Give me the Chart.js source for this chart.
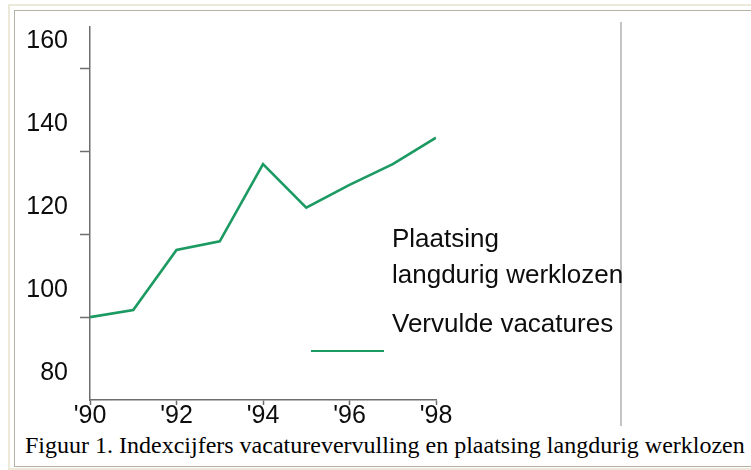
<!DOCTYPE html>
<html>
<head>
<meta charset="utf-8">
<script src="https://cdn.jsdelivr.net/npm/chart.js@4"></script>
<style>
  html, body { margin: 0; padding: 0; background: #fff; }
  body { width: 751px; height: 470px; position: relative; overflow: hidden; }
  .frame-outer { position: absolute; left: 8px; top: 4px; width: 800px; height: 462px; border: 2px solid #ece9d8; border-right: none; }
  .frame-inner { position: absolute; left: 14px; top: 10px; width: 800px; height: 455px; border: 1px solid #b5b2a4; border-right: none; }
  #chart { position: absolute; left: 0; top: 0; }
  .rightline { position: absolute; left: 620px; top: 22px; width: 1.5px; height: 404px; background: #c4c4c4; }
  .legend { position: absolute; left: 392px; font: 26px "Liberation Sans", Arial, sans-serif; line-height: 26px; color: #0d0d0d; white-space: nowrap; }
  .legend-line { position: absolute; left: 311px; top: 350px; width: 73px; height: 2px; background: #1b9a62; }
  .caption { position: absolute; left: 25px; top: 433px; font: 24px "Liberation Serif", "Times New Roman", serif; line-height: 24px; color: #000; white-space: nowrap; }
</style>
</head>
<body>
<div class="frame-outer"></div>
<div class="frame-inner"></div>
<canvas id="chart" width="751" height="430"></canvas>
<div class="rightline"></div>
<div class="legend" style="top:225px">Plaatsing</div>
<div class="legend" style="top:261px">langdurig werklozen</div>
<div class="legend" style="top:310px">Vervulde vacatures</div>
<div class="legend-line"></div>
<div class="caption">Figuur 1. Indexcijfers vacaturevervulling en plaatsing langdurig werklozen</div>

<script>
const years = [1990, 1991, 1992, 1993, 1994, 1995, 1996, 1997, 1998]
const vervuldeVacatures = [100, 101.7, 116.2, 118.3, 136.9, 126.4, 131.9, 136.9, 143.3]
const xTickYears = [1990, 1992, 1994, 1996, 1998]
const xTickLabels = ["'90", "'92", "'94", "'96", "'98"]
const yTicks = [80, 100, 120, 140, 160]

const green = "#1b9a62"
const axisGrey = "#6e6e6e"
const tickFont = { family: "'Liberation Sans', Arial, sans-serif", size: 25 }

const config = {
  type: "line",
  data: {
    datasets: [
      {
        label: "Vervulde vacatures",
        data: years.map((y, i) => ({ x: y, y: vervuldeVacatures[i] })),
        borderColor: green,
        borderWidth: 2.6,
        borderJoinStyle: "miter",
        pointRadius: 0,
        fill: false,
        tension: 0
      }
    ]
  },
  options: {
    responsive: false,
    animation: false,
    devicePixelRatio: 1,
    layout: { padding: { left: 0, top: 22, right: 315, bottom: 0 } },
    plugins: { legend: { display: false }, tooltip: { enabled: false } },
    scales: {
      x: {
        type: "linear",
        min: 1990,
        max: 1998,
        afterBuildTicks: scale => { scale.ticks = xTickYears.map(v => ({ value: v })) },
        afterFit: scale => { scale.height = 30 },
        ticks: {
          callback: (v, i) => xTickLabels[i],
          color: "#0d0d0d",
          font: tickFont,
          padding: -4,
          maxRotation: 0,
          autoSkip: false
        },
        grid: { drawOnChartArea: false, drawTicks: true, tickLength: 5, tickColor: axisGrey, tickWidth: 1.5 },
        border: { display: true, color: axisGrey, width: 1.5 }
      },
      y: {
        min: 80,
        max: 170,
        afterBuildTicks: scale => { scale.ticks = yTicks.map(v => ({ value: v })) },
        afterFit: scale => { scale.width = 90 },
        ticks: {
          color: "#0d0d0d",
          font: tickFont,
          padding: 12,
          labelOffset: -27
        },
        grid: {
          drawOnChartArea: false,
          drawTicks: true,
          tickLength: 10,
          tickColor: ctx => (ctx.tick && ctx.tick.value === 80 ? "rgba(0,0,0,0)" : axisGrey),
          tickWidth: 1.5
        },
        border: { display: true, color: axisGrey, width: 1.5 }
      }
    }
  }
}

new Chart(document.getElementById("chart"), config)
</script>
</body>
</html>
